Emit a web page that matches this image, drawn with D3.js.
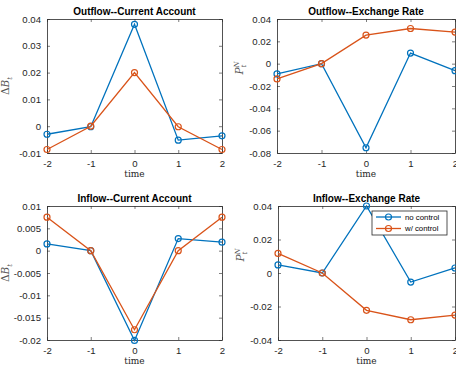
<!DOCTYPE html>
<html>
<head>
<meta charset="utf-8">
<script src="https://cdn.jsdelivr.net/npm/d3@7"></script>
<style>
  body { margin: 0; background: #fff; }
  svg { display: block; }
</style>
</head>
<body>
<svg id="chart" width="456" height="366"></svg>
<script>
// Impulse responses around the shock date
const times = [-2, -1, 0, 1, 2];
const seriesNames = ["no control", "w/ control"];

const outflowCA_noControl = [-0.003, -0.0002, 0.038, -0.0052, -0.0036];
const outflowCA_withControl = [-0.0087, 0, 0.020, -0.0002, -0.0087];

const outflowER_noControl = [-0.0092, 0, -0.0753, 0.0095, -0.0063];
const outflowER_withControl = [-0.0137, 0, 0.0256, 0.0315, 0.0283];

const inflowCA_noControl = [0.0015, 0, -0.0201, 0.0027, 0.0019];
const inflowCA_withControl = [0.0075, 0, -0.0177, 0, 0.0075];

const inflowER_noControl = [0.0048, 0, 0.040, -0.0054, 0.003];
const inflowER_withControl = [0.0117, 0, -0.0223, -0.0279, -0.0251];

const ticksCA_out = [-0.01, 0, 0.01, 0.02, 0.03, 0.04];
const ticksER_out = [-0.08, -0.06, -0.04, -0.02, 0, 0.02, 0.04];
const ticksCA_in = [-0.02, -0.015, -0.01, -0.005, 0, 0.005, 0.01];
const ticksER_in = [-0.04, -0.02, 0, 0.02, 0.04];

const colors = ["#0072BD", "#D95319"];
const axisColor = "#262626";

const panels = [
  { title: "Outflow--Current Account", ylab: "B", box: [47, 19, 222, 153], domain: [-0.01, 0.04], ticks: ticksCA_out, data: [outflowCA_noControl, outflowCA_withControl] },
  { title: "Outflow--Exchange Rate", ylab: "P", box: [277, 19, 455, 153], domain: [-0.08, 0.04], ticks: ticksER_out, data: [outflowER_noControl, outflowER_withControl] },
  { title: "Inflow--Current Account", ylab: "B", box: [47, 206, 222, 340], domain: [-0.02, 0.01], ticks: ticksCA_in, data: [inflowCA_noControl, inflowCA_withControl] },
  { title: "Inflow--Exchange Rate", ylab: "P", box: [278, 206, 455, 340], domain: [-0.04, 0.04], ticks: ticksER_in, data: [inflowER_noControl, inflowER_withControl], legend: true }
];

const svg = d3.select("#chart");
const fmt = v => (v === 0 ? "0" : String(+v.toFixed(3)));

panels.forEach(p => {
  const [x0, y0, x1, y1] = p.box;
  const x = d3.scaleLinear().domain([-2, 2]).range([x0, x1]);
  const y = d3.scaleLinear().domain(p.domain).range([y1, y0]);
  const g = svg.append("g");

  g.append("rect").attr("x", x0).attr("y", y0).attr("width", x1 - x0).attr("height", y1 - y0)
    .attr("fill", "#fff");

  // box axes with inward ticks
  const xa = g.append("g").attr("transform", `translate(0,${y1})`)
    .call(d3.axisBottom(x).tickValues(times).tickSizeInner(-3).tickSizeOuter(0).tickPadding(7).tickFormat(d => String(d)));
  const xaTop = g.append("g").attr("transform", `translate(0,${y0})`)
    .call(d3.axisTop(x).tickValues(times).tickSizeInner(-3).tickSizeOuter(0).tickFormat(""));
  const ya = g.append("g").attr("transform", `translate(${x0},0)`)
    .call(d3.axisLeft(y).tickValues(p.ticks).tickSizeInner(-3).tickSizeOuter(0).tickPadding(6).tickFormat(fmt));
  const yaR = g.append("g").attr("transform", `translate(${x1},0)`)
    .call(d3.axisRight(y).tickValues(p.ticks).tickSizeInner(-3).tickSizeOuter(0).tickFormat(""));

  [xa, xaTop, ya, yaR].forEach(a => {
    a.selectAll("path.domain").attr("stroke", axisColor).attr("stroke-width", 0.8);
    a.selectAll(".tick line").attr("stroke", axisColor).attr("stroke-width", 0.6);
    a.selectAll("text").attr("fill", axisColor)
      .style("font-family", "'Liberation Sans', Arial, sans-serif").style("font-size", "9.6px");
  });

  // series lines and circle markers
  p.data.forEach((vals, i) => {
    const pts = times.map((t, k) => [t, vals[k]]);
    g.append("path").datum(pts)
      .attr("fill", "none").attr("stroke", colors[i]).attr("stroke-width", 1.3)
      .attr("d", d3.line().x(d => x(d[0])).y(d => y(d[1])));
    g.selectAll(null).data(pts).enter().append("circle")
      .attr("cx", d => x(d[0])).attr("cy", d => y(d[1])).attr("r", 3)
      .attr("fill", "none").attr("stroke", colors[i]).attr("stroke-width", 1.2);
  });

  // title
  g.append("text").attr("x", (x0 + x1) / 2).attr("y", y0 - 4)
    .attr("text-anchor", "middle").attr("fill", "#000")
    .style("font-family", "'Liberation Sans', Arial, sans-serif").style("font-weight", "bold").style("font-size", "10px")
    .text(p.title);

  // x label
  g.append("text").attr("x", (x0 + x1) / 2).attr("y", y1 + 24)
    .attr("text-anchor", "middle").attr("fill", axisColor)
    .style("font-family", "'DejaVu Serif', 'Liberation Serif', serif").style("font-size", "9px")
    .text("time");

  // y label (math style)
  const ly = p.ylab === "B" ? (y0 + y1) / 2 : (y0 + y1) / 2 - 18;
  const lx = p.ylab === "B" ? x0 - 38 : x0 - 34;
  const t = g.append("text").attr("transform", `translate(${lx},${ly}) rotate(-90)`)
    .attr("text-anchor", "middle").attr("fill", "#555")
    .style("font-family", "'DejaVu Serif', 'Liberation Serif', serif").style("font-size", "10.5px");
  if (p.ylab === "B") {
    t.append("tspan").text("Δ");
    t.append("tspan").style("font-style", "italic").text("B");
    t.append("tspan").attr("dy", 2.5).style("font-size", "7px").style("font-style", "italic").text("t");
  } else {
    t.append("tspan").style("font-style", "italic").text("P");
    t.append("tspan").attr("dy", 2.5).style("font-size", "7px").style("font-style", "italic").text("t");
    t.append("tspan").attr("dx", -3).attr("dy", -7).style("font-size", "7px").style("font-style", "italic").text("N");
  }

  if (p.legend) {
    const lg = g.append("g");
    lg.append("rect").attr("x", 372).attr("y", 211).attr("width", 75).attr("height", 24)
      .attr("fill", "#fff").attr("stroke", axisColor).attr("stroke-width", 0.8);
    seriesNames.forEach((name, i) => {
      const yy = 217 + i * 11.5;
      lg.append("line").attr("x1", 376).attr("x2", 401).attr("y1", yy).attr("y2", yy)
        .attr("stroke", colors[i]).attr("stroke-width", 1.3);
      lg.append("circle").attr("cx", 388.5).attr("cy", yy).attr("r", 3)
        .attr("fill", "none").attr("stroke", colors[i]).attr("stroke-width", 1.2);
      lg.append("text").attr("x", 405).attr("y", yy + 2.8).attr("fill", "#000")
        .style("font-family", "'Liberation Sans', Arial, sans-serif").style("font-size", "7.8px")
        .text(name);
    });
  }
});
</script>
</body>
</html>
